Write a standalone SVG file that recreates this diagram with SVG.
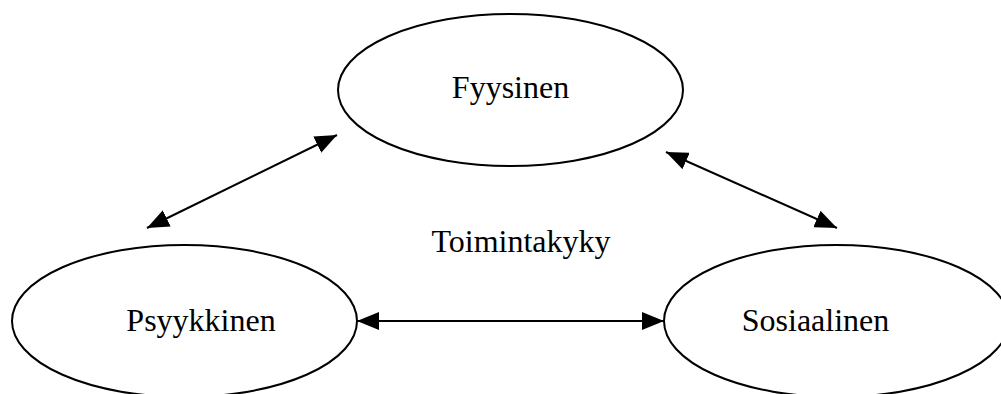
<svg xmlns="http://www.w3.org/2000/svg" width="1001" height="394" viewBox="0 0 1001 394">
  <style>
    .node ellipse { fill: #ffffff; stroke: #000000; stroke-width: 2; }
    .label { font-family: "Liberation Serif", "Times New Roman", serif; font-size: 32px; fill: #000000; text-anchor: middle; }
    .link { stroke: #000000; stroke-width: 2; fill: none; marker-start: url(#head); marker-end: url(#head); }
  </style>
  <defs>
    <!-- filled triangular arrowhead, used at both ends of every link -->
    <marker id="head" viewBox="0 0 22 18" refX="22" refY="9" markerWidth="22" markerHeight="18" markerUnits="userSpaceOnUse" orient="auto-start-reverse">
      <path d="M0,0 L22,9 L0,18 Z" fill="#000000"/>
    </marker>
  </defs>

  <rect width="1001" height="394" fill="#ffffff"/>

  <g id="fyysinen" class="node">
    <ellipse cx="510.5" cy="90" rx="172.5" ry="76"/>
    <text class="label" x="510.5" y="98">Fyysinen</text>
  </g>

  <g id="psyykkinen" class="node">
    <ellipse cx="184.5" cy="321" rx="172.5" ry="76"/>
    <text class="label" x="201" y="331">Psyykkinen</text>
  </g>

  <g id="sosiaalinen" class="node">
    <ellipse cx="836.5" cy="321" rx="172.5" ry="76"/>
    <text class="label" x="815.5" y="331">Sosiaalinen</text>
  </g>

  <g id="toimintakyky">
    <text class="label" x="521" y="252">Toimintakyky</text>
  </g>

  <g id="connectors">
    <line class="link" x1="147" y1="228" x2="337" y2="135"/>
    <line class="link" x1="666" y1="152" x2="837" y2="228"/>
    <line class="link" x1="357" y1="321" x2="664" y2="321"/>
  </g>
</svg>
